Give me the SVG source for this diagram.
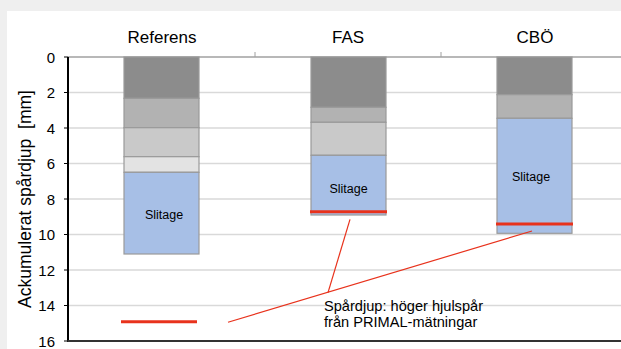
<svg xmlns="http://www.w3.org/2000/svg" width="621" height="349" viewBox="0 0 621 349">
<style>
text{font-family:"Liberation Sans",Arial,sans-serif;fill:#000}
.grid{stroke:#d9d9d9;stroke-width:1.5}
.seg{stroke:#9a9a9a;stroke-width:1.2}
.d{fill:#8c8c8c}.m{fill:#b2b2b2}.l{fill:#c9c9c9}.xl{fill:#e3e3e3}.b{fill:#a7bfe6}
.red{stroke:#e8321c;stroke-width:3}
.thin{stroke:#e8321c;stroke-width:1.2;fill:none}
.tick{font-size:15px;text-anchor:end}
.cat{font-size:17px;text-anchor:middle}
.sl{font-size:12.5px;text-anchor:middle}
.lg{font-size:14.6px}
</style>
<rect width="621" height="349" fill="#efefef"/>
<rect x="7" y="11" width="614" height="338" fill="#fff"/>
<g id="grid">
<line class="grid" x1="68" y1="92.5" x2="621" y2="92.5"/>
<line class="grid" x1="68" y1="128" x2="621" y2="128"/>
<line class="grid" x1="68" y1="163.5" x2="621" y2="163.5"/>
<line class="grid" x1="68" y1="199" x2="621" y2="199"/>
<line class="grid" x1="68" y1="234.5" x2="621" y2="234.5"/>
<line class="grid" x1="68" y1="270" x2="621" y2="270"/>
<line class="grid" x1="68" y1="305.5" x2="621" y2="305.5"/>
</g>
<g id="axes">
<line x1="68" y1="57" x2="621" y2="57" stroke="#a0a0a0" stroke-width="1.5"/>
<line x1="255" y1="52" x2="255" y2="57" stroke="#a0a0a0" stroke-width="1"/>
<line x1="441" y1="52" x2="441" y2="57" stroke="#a0a0a0" stroke-width="1"/>
<line x1="68" y1="57" x2="68" y2="341" stroke="#000" stroke-width="2"/>
<line x1="67" y1="341" x2="621" y2="341" stroke="#333" stroke-width="2"/>
<g stroke="#000" stroke-width="1">
<line x1="64" y1="57" x2="68" y2="57"/><line x1="64" y1="92.5" x2="68" y2="92.5"/>
<line x1="64" y1="128" x2="68" y2="128"/><line x1="64" y1="163.5" x2="68" y2="163.5"/>
<line x1="64" y1="199" x2="68" y2="199"/><line x1="64" y1="234.5" x2="68" y2="234.5"/>
<line x1="64" y1="270" x2="68" y2="270"/><line x1="64" y1="305.5" x2="68" y2="305.5"/>
<line x1="64" y1="341" x2="68" y2="341"/>
</g>
<text class="tick" x="55" y="62.5">0</text>
<text class="tick" x="55" y="98">2</text>
<text class="tick" x="55" y="133.5">4</text>
<text class="tick" x="55" y="169">6</text>
<text class="tick" x="55" y="204.5">8</text>
<text class="tick" x="55" y="240">10</text>
<text class="tick" x="55" y="275.5">12</text>
<text class="tick" x="55" y="311">14</text>
<text class="tick" x="55" y="346.5">16</text>
<text transform="translate(31,199) rotate(-90)" font-size="17.5" text-anchor="middle" xml:space="preserve">Ackumulerat spårdjup  [mm]</text>
<text class="cat" x="162" y="43">Referens</text>
<text class="cat" x="348" y="43">FAS</text>
<text class="cat" x="535" y="43">CBÖ</text>
</g>
<g id="bar-referens">
<rect class="seg d" x="124" y="57" width="75" height="41.3"/>
<rect class="seg m" x="124" y="98.3" width="75" height="29.4"/>
<rect class="seg l" x="124" y="127.7" width="75" height="29"/>
<rect class="seg xl" x="124" y="156.7" width="75" height="15.6"/>
<rect class="seg b" x="124" y="172.3" width="75" height="81.7"/>
<text class="sl" x="164" y="219">Slitage</text>
</g>
<g id="bar-fas">
<rect class="seg d" x="311" y="57" width="75" height="50.3"/>
<rect class="seg m" x="311" y="107.3" width="75" height="15"/>
<rect class="seg l" x="311" y="122.3" width="75" height="33"/>
<rect class="seg b" x="311" y="155.3" width="75" height="59.7"/>
<text class="sl" x="348.5" y="192.5">Slitage</text>
</g>
<g id="bar-cbo">
<rect class="seg d" x="497" y="57" width="75" height="37.7"/>
<rect class="seg m" x="497" y="94.7" width="75" height="23.6"/>
<rect class="seg b" x="497" y="118.3" width="75" height="115"/>
<text class="sl" x="531" y="181">Slitage</text>
</g>
<g id="rut-lines">
<line class="red" x1="121" y1="321.7" x2="197" y2="321.7"/>
<line class="red" x1="310" y1="211.7" x2="387" y2="211.7"/>
<line class="red" x1="496" y1="224" x2="573" y2="224"/>
</g>
<g id="connectors">
<line class="thin" x1="228" y1="322.3" x2="532" y2="231"/>
<line class="thin" x1="350" y1="219.3" x2="328" y2="292.7"/>
</g>
<g id="legend-label">
<text class="lg" x="324" y="311">Spårdjup: höger hjulspår</text>
<text class="lg" x="324" y="327">från PRIMAL-mätningar</text>
</g>
</svg>
